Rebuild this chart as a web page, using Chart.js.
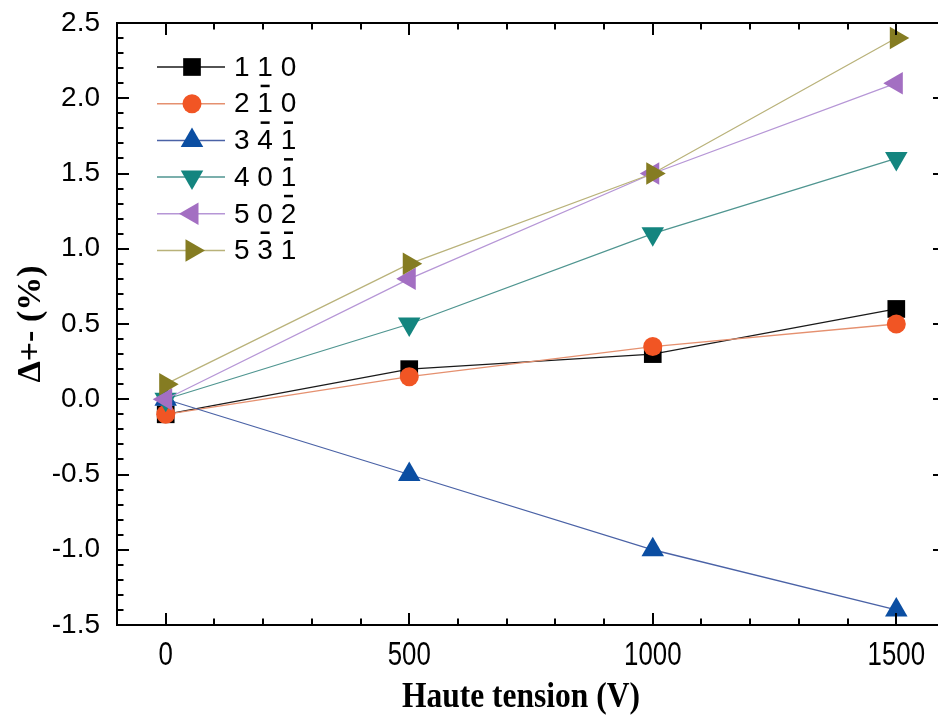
<!DOCTYPE html>
<html>
<head>
<meta charset="utf-8">
<script src="https://cdn.jsdelivr.net/npm/chart.js@4/dist/chart.umd.min.js"></script>
<style>
  html, body { margin: 0; padding: 0; background: #fff; overflow: hidden; width: 938px; height: 718px; }
  canvas { display: block; }
</style>
</head>
<body>
<canvas id="c" width="946" height="718"></canvas>
<script>
// ---- data ----
const voltages = [0, 500, 1000, 1500];
const labels = ['1 1 0', '2 1\u0305 0', '3 4\u0305 1\u0305', '4 0 1\u0305', '5 0 2\u0305', '5 3\u0305 1\u0305'];
const s110  = [-0.1, 0.2, 0.3, 0.6];
const s2b10 = [-0.1, 0.15, 0.35, 0.5];
const s34b1 = [0.0, -0.5, -1.0, -1.4];
const s401b = [0.0, 0.5, 1.1, 1.6];
const s502b = [0.0, 0.8, 1.5, 2.1];
const s53b1 = [0.1, 0.9, 1.5, 2.4];
const xTickLabels = [0, 500, 1000, 1500];
const yTickLabels = [-1.5, -1.0, -0.5, 0.0, 0.5, 1.0, 1.5, 2.0, 2.5];
const xTitle = 'Haute tension (V)';
const yTitle = '\u0394+- (%)';

// ---- styles ----
const seriesValues = [s110, s2b10, s34b1, s401b, s502b, s53b1];
const markerColors = ['#000000', '#f15524', '#0b4ea2', '#14857f', '#a36fc2', '#857c22'];
const lineColors   = ['#1a1a1a', '#e5906f', '#4a62a6', '#4f9590', '#b696d6', '#b9b27a'];
const pointStyles  = ['rect', 'circle', 'triangle', 'triangle', 'triangle', 'triangle'];
const rotations    = [0, 0, 0, 180, 270, 90];
const radii        = [12.5, 9.5, 13, 13, 13, 13];

const datasets = seriesValues.map((vals, i) => ({
  label: labels[i],
  data: voltages.map((v, k) => ({ x: v, y: vals[k] })),
  borderColor: lineColors[i],
  backgroundColor: markerColors[i],
  pointBackgroundColor: markerColors[i],
  pointBorderColor: markerColors[i],
  pointBorderWidth: 0,
  borderWidth: 1.3,
  pointStyle: pointStyles[i],
  pointRotation: rotations[i],
  pointRadius: radii[i],
  pointHoverRadius: radii[i],
  tension: 0,
  clip: false,
  order: seriesValues.length - i
}));

const zeroPad = s => { s.paddingLeft = 0; s.paddingRight = 0; s.paddingTop = 0; s.paddingBottom = 0; };

const frameTicks = {
  id: 'frameTicks',
  afterDatasetsDraw(chart) {
    const ctx = chart.ctx, a = chart.chartArea;
    const xs = chart.scales.x, ys = chart.scales.y;
    ctx.save();
    ctx.strokeStyle = '#000';
    ctx.lineWidth = 2;
    ctx.beginPath();
    ctx.moveTo(a.left, a.top); ctx.lineTo(a.right, a.top); ctx.lineTo(a.right, a.bottom);
    ctx.stroke();
    for (let k = -15; k <= 25; k++) {
      const v = k / 10;
      const len = (k % 5 === 0) ? 12 : 6.5;
      const py = Math.round(ys.getPixelForValue(v));
      ctx.beginPath();
      ctx.moveTo(a.left, py); ctx.lineTo(a.left + len, py);
      ctx.moveTo(a.right, py); ctx.lineTo(a.right - len, py);
      ctx.stroke();
    }
    for (let k = 0; k <= 15; k++) {
      const v = k * 100;
      const len = (k % 5 === 0) ? 12 : 6.5;
      const px = Math.round(xs.getPixelForValue(v));
      ctx.beginPath();
      ctx.moveTo(px, a.bottom); ctx.lineTo(px, a.bottom - len);
      ctx.moveTo(px, a.top); ctx.lineTo(px, a.top + len);
      ctx.stroke();
    }
    ctx.restore();
  }
};

// x tick labels and x title are drawn condensed like the reference
const xText = {
  id: 'xText',
  afterDraw(chart) {
    const ctx = chart.ctx, xs = chart.scales.x;
    ctx.save();
    ctx.fillStyle = '#000';
    ctx.textAlign = 'center';
    ctx.textBaseline = 'middle';
    ctx.font = '34px "Liberation Sans", Arial, sans-serif';
    xTickLabels.forEach(v => {
      const px = xs.getPixelForValue(v);
      ctx.save();
      ctx.translate(px, 656);
      ctx.scale(0.76, 1);
      ctx.fillText(String(v), 0, 0);
      ctx.restore();
    });
    ctx.font = 'bold 35px "Liberation Serif", "Times New Roman", serif';
    ctx.save();
    ctx.translate(521, 698);
    ctx.scale(0.9, 1);
    ctx.fillText(xTitle, 0, 0);
    ctx.restore();
    ctx.restore();
  }
};

const legendPlugin = {
  id: 'inLegend',
  afterDraw(chart) {
    const ctx = chart.ctx;
    const x0 = 157, x1 = 225, mx = 192, tx = 234, y0 = 67, dy = 36.7;
    ctx.save();
    ctx.font = '28px "Liberation Sans", Arial, sans-serif';
    ctx.textBaseline = 'middle';
    ctx.textAlign = 'left';
    chart.data.datasets.forEach((ds, i) => {
      const y = y0 + i * dy;
      ctx.strokeStyle = ds.borderColor;
      ctx.lineWidth = 1.5;
      ctx.beginPath(); ctx.moveTo(x0, y); ctx.lineTo(x1, y); ctx.stroke();
      ctx.fillStyle = ds.pointBackgroundColor;
      ctx.strokeStyle = ds.pointBackgroundColor;
      Chart.helpers.drawPoint(ctx, { pointStyle: ds.pointStyle, rotation: ds.pointRotation, radius: ds.pointRadius, borderWidth: 0 }, mx, y);
      ctx.fillStyle = '#000';
      const str = ds.label;
      let plain = '';
      for (let c = 0; c < str.length; c++) {
        const ch = str[c];
        if (ch === '\u0305') continue;
        const left = tx + ctx.measureText(plain).width;
        ctx.fillText(ch, left, y + 1);
        const w = ctx.measureText(ch).width;
        if (str[c + 1] === '\u0305') {
          ctx.fillRect(left + w / 2 - 4.5, y - 19, 9, 2.5);
        }
        plain += ch;
      }
    });
    ctx.restore();
  }
};

new Chart(document.getElementById('c'), {
  type: 'line',
  data: { datasets },
  options: {
    responsive: false,
    animation: false,
    events: [],
    layout: { autoPadding: false, padding: { top: 23, right: 1, left: 0, bottom: 0 } },
    plugins: { legend: { display: false }, tooltip: { enabled: false } },
    scales: {
      x: {
        type: 'linear', position: 'bottom', min: -100, max: 1600,
        grid: { display: false },
        border: { display: true, color: '#000', width: 2 },
        afterBuildTicks: s => { s.ticks = xTickLabels.map(v => ({ value: v })); },
        afterFit: s => { s.height = 93; zeroPad(s); },
        ticks: { display: false },
        title: { display: false }
      },
      y: {
        type: 'linear', position: 'left', min: -1.5, max: 2.5,
        grid: { display: false },
        border: { display: true, color: '#000', width: 2 },
        afterBuildTicks: s => { s.ticks = yTickLabels.map(v => ({ value: v })); },
        afterFit: s => { s.width = 117; zeroPad(s); },
        ticks: {
          color: '#000', padding: 9, autoSkip: false,
          font: { family: '"Liberation Sans", Arial, sans-serif', size: 28, lineHeight: 1 },
          callback: v => Number(v).toFixed(1)
        },
        title: {
          display: true, text: yTitle, color: '#000',
          font: { family: '"Liberation Serif", "Times New Roman", serif', size: 34, weight: 'bold', lineHeight: 1 },
          padding: { top: 14, bottom: 0 }
        }
      }
    }
  },
  plugins: [frameTicks, xText, legendPlugin]
});
</script>
</body>
</html>
